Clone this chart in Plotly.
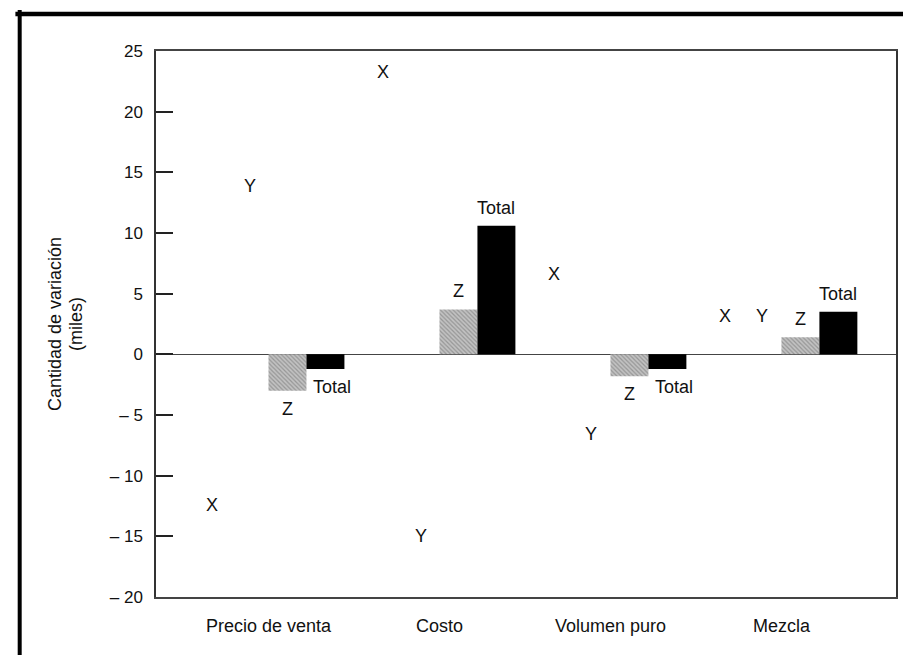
import plotly.graph_objects as go

# ---- data ----
categories = ["Precio de venta", "Costo", "Volumen puro", "Mezcla"]
series_names = ["X", "Y", "Z", "Total"]
x_values = [-10.9, 21.8, 5.1, 1.65]
y_values = [12.4, -13.5, -5.1, 1.65]
z_values = [-3.0, 3.7, -1.8, 1.4]
total_values = [-1.2, 10.6, -1.2, 3.5]
y_tickvals = [-20, -15, -10, -5, 0, 5, 10, 15, 20, 25]
y_ticktext = ["\u2013 20", "\u2013 15", "\u2013 10", "\u2013 5", "0", "5", "10", "15", "20", "25"]
y_title_lines = ["Cantidad de variación", "(miles)"]

all_values = [x_values, y_values, z_values, total_values]

FONT = "Liberation Sans, Arial, Helvetica, sans-serif"
BW = 0.222  # bar width in category units
xpos = list(range(len(categories)))

styles = [
    dict(color="rgba(0,0,0,0)"),
    dict(color="rgba(0,0,0,0)"),
    dict(color="#b4b4b4", pattern=dict(shape="\\", fgcolor="#6a6a6a", bgcolor="#c2c2c2",
                                       size=3, solidity=0.4)),
    dict(color="#000000"),
]

fig = go.Figure()
for name, vals, st in zip(series_names, all_values, styles):
    fig.add_trace(go.Bar(x=xpos, y=vals, name=name, marker=dict(line=dict(width=0), **st),
                         hoverinfo="skip", showlegend=False))

# labels at bar ends
annotations = []
for k, (name, vals) in enumerate(zip(series_names, all_values)):
    off = (k - 1.5) * BW
    for i, v in enumerate(vals):
        xs = 7 if (name == "Total" and v < 0) else 0
        annotations.append(dict(x=i + off, y=v, xref="x", yref="y", text=name,
                                showarrow=False, yshift=18 if v >= 0 else -18, xshift=xs,
                                font=dict(family=FONT, size=18, color="#111"),
                                xanchor="center", yanchor="middle"))

# y-axis title as two rotated lines
for txt, px in zip(y_title_lines, [-0.1365, -0.1081]):
    annotations.append(dict(x=px, y=0.5, xref="paper", yref="paper", text=txt,
                            textangle=-90, showarrow=False,
                            font=dict(family=FONT, size=18, color="#111"),
                            xanchor="center", yanchor="middle"))

shapes = [
    # thick outer frame: top and left
    dict(type="line", xref="paper", yref="paper", x0=-0.19, x1=1.04, y0=1.0678, y1=1.0678,
         line=dict(color="#000", width=4.5)),
    dict(type="line", xref="paper", yref="paper", x0=-0.1842, x1=-0.1842, y0=1.075, y1=-0.13,
         line=dict(color="#000", width=4)),
    # faint bottom rule
    dict(type="line", xref="paper", yref="paper", x0=0.485, x1=1.04, y0=-0.115, y1=-0.115,
         line=dict(color="#bbbbbb", width=1.5)),
]

fig.update_layout(
    width=911, height=655,
    margin=dict(l=148, r=23, t=43, b=66),
    paper_bgcolor="white", plot_bgcolor="white",
    barmode="group", bargap=1 - 4 * BW, bargroupgap=0,
    font=dict(family=FONT, size=17, color="#111"),
    annotations=annotations, shapes=shapes,
    xaxis=dict(range=[-0.658, 3.670], tickvals=xpos, ticktext=categories,
               showline=True, mirror=True, linecolor="#444", linewidth=1.5,
               ticks="", showgrid=False, zeroline=False,
               tickfont=dict(family=FONT, size=18, color="#111"),
               ticklabelstandoff=12),
    yaxis=dict(range=[-20, 25], tickvals=y_tickvals, ticktext=y_ticktext,
               ticks="inside", ticklen=17, tickwidth=1.5, tickcolor="#222",
               showline=True, mirror=True, linecolor="#333", linewidth=1.5,
               zeroline=True, zerolinecolor="#444", zerolinewidth=1.2,
               showgrid=False,
               tickfont=dict(family=FONT, size=17, color="#111"),
               ticklabelstandoff=8),
)

fig.write_html("out.html")
